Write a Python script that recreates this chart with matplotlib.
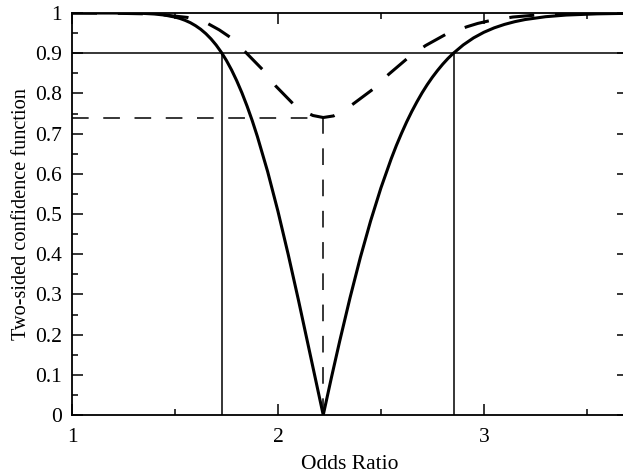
import matplotlib
matplotlib.use("Agg")
import matplotlib.pyplot as plt
from matplotlib.ticker import MultipleLocator, FixedLocator

plt.rcParams['font.family'] = ['Liberation Serif', 'DejaVu Serif']
plt.rcParams['lines.scale_dashes'] = False

# Solid curve: two-sided confidence function
solid_x = [1.00, 1.20, 1.30, 1.35, 1.40, 1.45, 1.50, 1.525, 1.55, 1.575, 1.60,
           1.625, 1.65, 1.675, 1.70, 1.725, 1.75, 1.775, 1.80, 1.825, 1.85,
           1.875, 1.90, 1.95, 2.00, 2.05, 2.10, 2.15, 2.18, 2.22, 2.26, 2.30,
           2.35, 2.40, 2.45, 2.50, 2.55, 2.575, 2.60, 2.625, 2.65, 2.675, 2.70,
           2.725, 2.75, 2.775, 2.80, 2.825, 2.85, 2.90, 2.95, 3.00, 3.05, 3.10,
           3.15, 3.20, 3.30, 3.40, 3.55, 3.70]
solid_y = [1.000, 0.9999, 0.9996, 0.9989, 0.9975, 0.9948, 0.9899, 0.9863, 0.9816,
           0.9758, 0.9684, 0.9595, 0.9486, 0.9356, 0.9203, 0.9024, 0.8818, 0.8582,
           0.8314, 0.8016, 0.7686, 0.7326, 0.6931, 0.6056, 0.5070, 0.3992, 0.2850,
           0.1664, 0.0951, 0.000, 0.0936, 0.1838, 0.2913, 0.3914, 0.4826, 0.5646,
           0.6372, 0.6702, 0.7005, 0.7289, 0.7550, 0.7790, 0.8014, 0.8217, 0.8402,
           0.8570, 0.8725, 0.8865, 0.8990, 0.9206, 0.9381, 0.9520, 0.9630, 0.9716,
           0.9784, 0.9837, 0.9908, 0.9949, 0.9979, 0.9992]

# Dashed curve
dash_x = [1.00, 1.20, 1.35, 1.45, 1.56, 1.61, 1.662, 1.715, 1.767, 1.84, 1.924,
          1.99, 2.074, 2.12, 2.17, 2.22, 2.27, 2.32, 2.366, 2.463, 2.539, 2.633,
          2.717, 2.819, 2.919, 2.97, 3.029, 3.141, 3.256, 3.40, 3.55, 3.70]
dash_y = [1.000, 0.9995, 0.998, 0.995, 0.989, 0.982, 0.973, 0.958, 0.940, 0.904,
          0.860, 0.818, 0.774, 0.757, 0.745, 0.740, 0.744, 0.757, 0.774, 0.811,
          0.848, 0.889, 0.919, 0.948, 0.966, 0.974, 0.981, 0.990, 0.995, 0.998,
          0.999, 1.000]

# Reference values
conf_level = 0.9
ci_bounds = [1.728, 2.853]
point_estimate = 2.22
dashed_min = 0.74

x_major = [1, 2, 3]
y_major = [0, 0.1, 0.2, 0.3, 0.4, 0.5, 0.6, 0.7, 0.8, 0.9, 1]
y_labels = ['0', '0.1', '0.2', '0.3', '0.4', '0.5', '0.6', '0.7', '0.8', '0.9', '1']

fig = plt.figure(figsize=(6.23, 4.73), dpi=100)
ax = fig.add_axes([72/623, 58/473, 556/623, 402/473])
ax.set_xlim(1, 3.7)
ax.set_ylim(0, 1)

ax.plot(solid_x, solid_y, color='black', lw=2.2, solid_joinstyle='round')
ax.plot(dash_x, dash_y, color='black', lw=2.2, dashes=(18, 15))

ax.axhline(conf_level, color='black', lw=1.1)
for b in ci_bounds:
    ax.plot([b, b], [0, conf_level], color='black', lw=1.1)
ax.plot([1, point_estimate], [dashed_min, dashed_min], color='black', lw=1.1, dashes=(12, 10.5))
ax.plot([point_estimate, point_estimate], [0, dashed_min], color='black', lw=1.1, dashes=(12, 10.5))

for s in ax.spines.values():
    s.set_linewidth(1.3)

ax.xaxis.set_major_locator(FixedLocator(x_major))
ax.xaxis.set_minor_locator(MultipleLocator(0.5))
ax.yaxis.set_major_locator(FixedLocator(y_major))
ax.yaxis.set_minor_locator(MultipleLocator(0.05))
ax.set_xticklabels([str(v) for v in x_major])
ax.set_yticklabels(y_labels)
ax.tick_params(which='both', direction='in', top=True, right=True, width=1.1,
               labelsize=15.5)
ax.tick_params(which='major', length=8)
ax.tick_params(which='minor', length=4.5)
ax.tick_params(axis='y', which='minor', right=False)
ax.tick_params(axis='x', pad=9)
ax.tick_params(axis='y', pad=7)

ax.set_xlabel('Odds Ratio', fontsize=15.5, labelpad=6)
ax.set_ylabel('Two-sided confidence function', fontsize=14.6, labelpad=3)

fig.savefig('out.png', dpi=100)
